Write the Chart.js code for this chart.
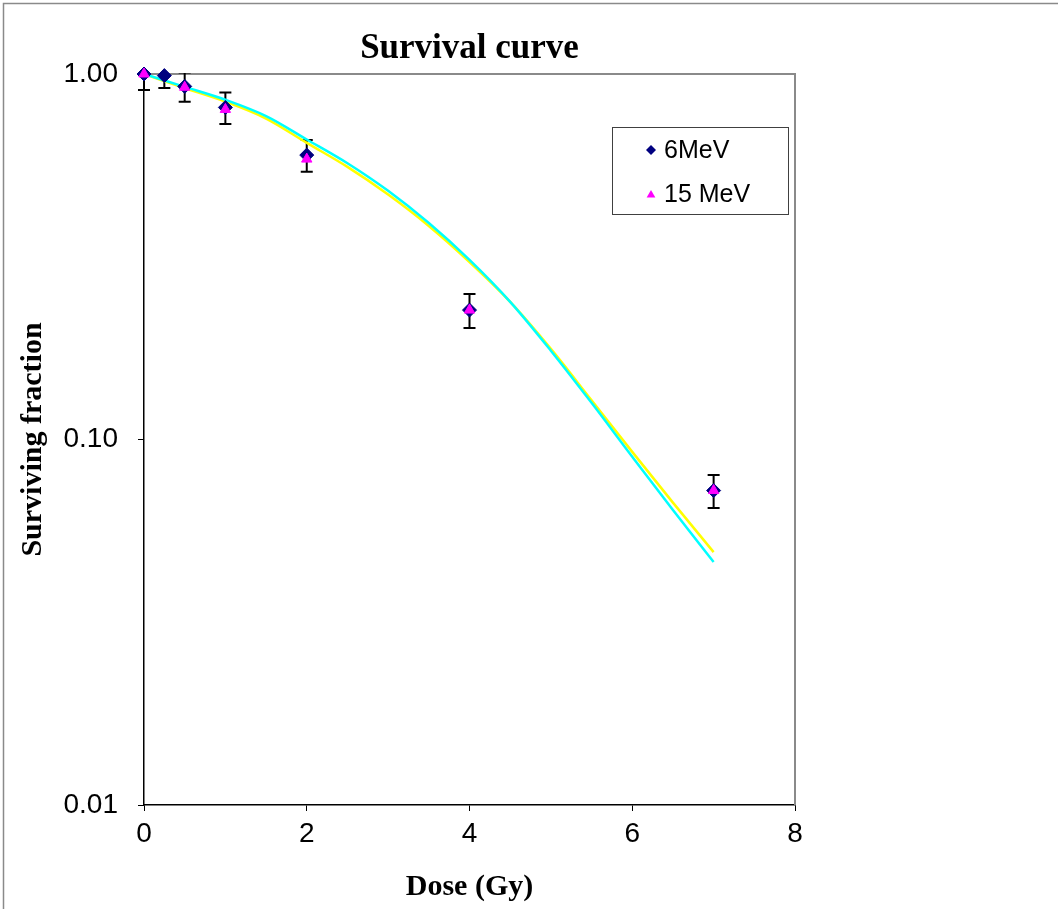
<!DOCTYPE html>
<html>
<head>
<meta charset="utf-8">
<title>Survival curve</title>
<script src="https://cdn.jsdelivr.net/npm/chart.js@4.4.1/dist/chart.umd.min.js"></script>
<style>
  html, body { margin: 0; padding: 0; background: #fff; }
  canvas { display: block; }
</style>
</head>
<body>
<canvas id="survChart" width="1058" height="909"></canvas>
<script>
// measured points (6 MeV has error bars)
const dose6 = [0, 0.25, 0.5, 1, 2, 4, 7];
const sf6 = [1.00, 0.99, 0.925, 0.81, 0.60, 0.226, 0.0725];
const err6 = [0.096, 0.075, 0.085, 0.08, 0.06, 0.024, 0.0075];

const dose15 = [0, 0.5, 1, 2, 4, 7];
const sf15 = [1.00, 0.92, 0.80, 0.585, 0.226, 0.0725];

// fitted curves
const fitDose = [0, 0.5, 1, 1.5, 2, 2.5, 3, 3.5, 4, 4.5, 5, 5.5, 6, 6.5, 7];
const fitCyan = [1.0, 0.922, 0.850, 0.767, 0.662, 0.570, 0.479, 0.391, 0.310, 0.238, 0.175, 0.126, 0.0897, 0.0641, 0.0462];
const fitYellow = [1.0, 0.915, 0.840, 0.755, 0.648, 0.557, 0.468, 0.384, 0.306, 0.238, 0.177, 0.128, 0.0925, 0.0672, 0.0492];

const xTicks = [0, 2, 4, 6, 8];
const yTicks = [0.01, 0.1, 1];

const legendItems = ['6MeV', '15 MeV'];
const chartTitle = 'Survival curve';

function toXY(xs, ys) {
  return xs.map((x, i) => ({ x: x, y: ys[i] }));
}

function diamond(ctx, x, y, r) {
  ctx.beginPath();
  ctx.moveTo(x, y - r);
  ctx.lineTo(x + r, y);
  ctx.lineTo(x, y + r);
  ctx.lineTo(x - r, y);
  ctx.closePath();
  ctx.fill();
}

function triangle(ctx, x, y, r) {
  ctx.beginPath();
  ctx.moveTo(x, y - r);
  ctx.lineTo(x + r * 0.87, y + r * 0.5);
  ctx.lineTo(x - r * 0.87, y + r * 0.5);
  ctx.closePath();
  ctx.fill();
}

const decor = {
  id: 'decor',
  beforeDraw(chart) {
    const ctx = chart.ctx;
    ctx.save();
    ctx.fillStyle = '#fff';
    ctx.fillRect(0, 0, chart.width, chart.height);
    // outer frame
    ctx.strokeStyle = '#8a8a8a';
    ctx.lineWidth = 1.5;
    ctx.beginPath();
    ctx.moveTo(3.5, chart.height);
    ctx.lineTo(3.5, 3.5);
    ctx.lineTo(chart.width, 3.5);
    ctx.stroke();
    ctx.restore();
  },
  beforeDatasetsDraw(chart) {
    const { ctx, chartArea: a, scales: { x, y } } = chart;
    ctx.save();
    // plot area border top / right
    ctx.strokeStyle = '#8a8a8a';
    ctx.lineWidth = 2;
    ctx.beginPath();
    ctx.moveTo(a.left, a.top);
    ctx.lineTo(a.right, a.top);
    ctx.lineTo(a.right, a.bottom);
    ctx.stroke();

    // error bars
    ctx.beginPath();
    ctx.rect(a.left - 10, a.top - 1, a.right - a.left + 20, a.bottom - a.top + 2);
    ctx.clip();
    ctx.strokeStyle = '#000';
    ctx.lineWidth = 2;
    dose6.forEach((d, i) => {
      const px = x.getPixelForValue(d);
      const hi = y.getPixelForValue(sf6[i] + err6[i]);
      const lo = y.getPixelForValue(sf6[i] - err6[i]);
      ctx.beginPath();
      ctx.moveTo(px, hi);
      ctx.lineTo(px, lo);
      ctx.moveTo(px - 6, hi);
      ctx.lineTo(px + 6, hi);
      ctx.moveTo(px - 6, lo);
      ctx.lineTo(px + 6, lo);
      ctx.stroke();
    });
    ctx.restore();
  },
  afterDraw(chart) {
    const { ctx, chartArea: a } = chart;
    ctx.save();
    // title
    ctx.fillStyle = '#000';
    ctx.font = 'bold 35px "Liberation Serif", "Times New Roman", serif';
    ctx.textAlign = 'center';
    ctx.textBaseline = 'middle';
    ctx.fillText(chartTitle, (a.left + a.right) / 2, 49);

    // legend box
    ctx.fillStyle = '#fff';
    ctx.fillRect(612, 127, 177, 88);
    ctx.strokeStyle = '#404040';
    ctx.lineWidth = 1;
    ctx.strokeRect(612.5, 127.5, 176, 87);

    ctx.fillStyle = '#000080';
    diamond(ctx, 651, 150, 5);
    ctx.fillStyle = '#FF00FF';
    triangle(ctx, 651, 195, 5);

    ctx.fillStyle = '#000';
    ctx.font = '25px "Liberation Sans", Arial, sans-serif';
    ctx.textAlign = 'left';
    ctx.textBaseline = 'middle';
    ctx.fillText(legendItems[0], 664, 151);
    ctx.fillText(legendItems[1], 664, 195);
    ctx.restore();
  }
};

let chart;

function initChart() {
  const ctx = document.getElementById('survChart');

  chart = new Chart(ctx, {
    type: 'scatter',
    data: {
      datasets: [{
        label: '15 MeV',
        data: toXY(dose15, sf15),
        pointStyle: 'triangle',
        pointRadius: 6,
        backgroundColor: '#FF00FF',
        borderColor: '#FF00FF',
        borderWidth: 1,
        clip: false
      }, {
        label: '6MeV',
        data: toXY(dose6, sf6),
        pointStyle: 'rectRot',
        pointRadius: 7,
        backgroundColor: '#000080',
        borderColor: '#000080',
        borderWidth: 1,
        clip: false
      }, {
        type: 'line',
        label: 'fit cyan',
        data: toXY(fitDose, fitCyan),
        borderColor: '#00FFFF',
        borderWidth: 2.5,
        pointRadius: 0,
        fill: false,
        cubicInterpolationMode: 'monotone'
      }, {
        type: 'line',
        label: 'fit yellow',
        data: toXY(fitDose, fitYellow),
        borderColor: '#FFFF00',
        borderWidth: 2.5,
        pointRadius: 0,
        fill: false,
        cubicInterpolationMode: 'monotone'
      }]
    },
    options: {
      responsive: false,
      animation: false,
      layout: { padding: { top: 74, right: 263, left: 0, bottom: 0 } },
      plugins: {
        legend: { display: false },
        tooltip: { enabled: false },
        title: { display: false }
      },
      scales: {
        x: {
          type: 'linear',
          min: 0,
          max: 8,
          afterBuildTicks: s => { s.ticks = xTicks.map(v => ({ value: v })); },
          afterFit: s => { s.height = 104; },
          grid: { drawOnChartArea: false, drawTicks: true, tickLength: 6, color: '#000' },
          border: { color: '#000', width: 1.5 },
          ticks: {
            color: '#000',
            font: { family: '"Liberation Sans", Arial', size: 28 },
            padding: 6,
            maxRotation: 0
          },
          title: {
            display: true,
            text: 'Dose (Gy)',
            color: '#000',
            font: { family: '"Liberation Serif", "Times New Roman"', size: 30, weight: 'bold' },
            padding: { top: 0, bottom: 4 }
          }
        },
        y: {
          type: 'logarithmic',
          min: 0.01,
          max: 1,
          afterBuildTicks: s => { s.ticks = yTicks.map(v => ({ value: v })); },
          afterFit: s => { s.width = 144; },
          grid: { drawOnChartArea: false, drawTicks: true, tickLength: 6, color: '#000' },
          border: { color: '#000', width: 1.5 },
          ticks: {
            color: '#000',
            font: { family: '"Liberation Sans", Arial', size: 28 },
            padding: 20,
            callback: v => Number(v).toFixed(2)
          },
          title: {
            display: true,
            text: 'Surviving fraction',
            color: '#000',
            font: { family: '"Liberation Serif", "Times New Roman"', size: 30, weight: 'bold' },
            padding: { top: 15, bottom: 0 }
          }
        }
      }
    },
    plugins: [decor]
  });
}

window.onload = () => {
  initChart();
};
</script>
</body>
</html>
